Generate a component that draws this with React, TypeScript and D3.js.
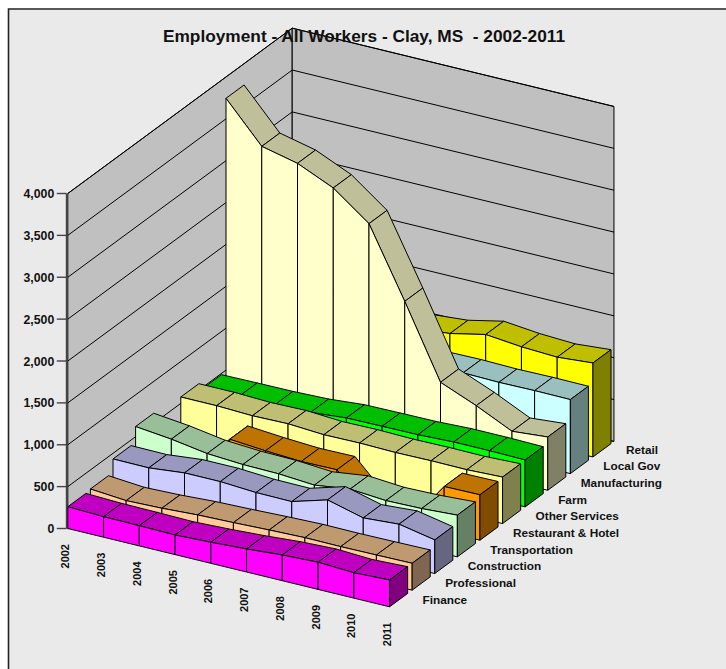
import React from "react";
import * as d3 from "d3";

const title = "Employment - All Workers - Clay, MS  - 2002-2011";
const years = ["2002","2003","2004","2005","2006","2007","2008","2009","2010","2011"];
const yTicks = [0,500,1000,1500,2000,2500,3000,3500,4000];

const finance = [260,245,241,234,251,275,307,324,303,320];
const professional = [273,238,251,275,287,303,315,312,316,321];
const construction = [433,430,474,474,447,443,567,456,485,401];
const transportation = [621,574,506,479,472,441,497,464,473,498];
const restaurant = [0,0,478,444,420,425,0,0,537,542];
const otherServices = [576,576,560,568,541,546,537,542,539,555];
const farm = [485,490,493,506,542,547,550,567,567,560];
const manufacturing = [3745,3275,3176,2986,2664,1840,977,802,600,636];
const localGov = [890,890,890,890,890,886,891,882,887,884];
const retail = [1010,1010,1015,1020,1022,1058,1150,1107,1087,1122];

const seriesNames = ["Finance","Professional","Construction","Transportation","Restaurant & Hotel","Other Services","Farm","Manufacturing","Local Gov","Retail"];
const seriesValues = [finance,professional,construction,transportation,restaurant,otherServices,farm,manufacturing,localGov,retail];
const seriesFront = ["#FF00FF","#FFCC99","#CCCCFF","#CCFFCC","#FF9900","#FFFF99","#00FF00","#FFFFCC","#CCFFFF","#FFFF00"];
const seriesTop = ["#C000C0","#BF9970","#9999BF","#99BF99","#BF7300","#BFBF73","#00BF00","#BFBF99","#99BFBF","#BFBF00"];
const seriesSide = ["#800080","#806650","#666680","#668066","#804D00","#80804D","#008000","#808066","#668080","#808000"];

const ix = d3.scaleLinear().domain([0, 9]).range([0, 321.75]);
const iy = d3.scaleLinear().domain([0, 9]).range([0, 78.3]);
const dx = d3.scaleLinear().domain([0, 1]).range([0, 22.6]);
const dy = d3.scaleLinear().domain([0, 1]).range([0, -16.65]);
const vy = d3.scaleLinear().domain([0, 4000]).range([0, -335]);
const X0 = 67.8, Y0 = 528.5;
const WALL = 9.93;
const BAR = 0.8;

type P = [number, number];
const proj = (i: number, s: number, v: number): P => [
  X0 + ix(i) + dx(s),
  Y0 + iy(i) + dy(s) + vy(v),
];
const poly = (pts: P[]) => d3.line()(pts) + "Z";

const font = "'Liberation Sans', Arial, sans-serif";
const stroke = "#000";

export default function App() {
  const idx = d3.range(years.length);
  const segs = d3.pairs(idx);
  return (
    <svg width={726} height={669} style={{ position: "absolute", left: 0, top: 0, display: "block" }} fontFamily={font}>
      <rect x={0} y={0} width={726} height={669} fill="#fff" />
      <rect x={9} y={9.5} width={717} height={660} fill="#EAEAEA" />
      <path d="M8.5,669V9H726" fill="none" stroke="#222" strokeWidth={1.6} />
      {/* walls */}
      <path d={poly([proj(0,0,0),proj(0,WALL,0),proj(0,WALL,4000),proj(0,0,4000)])} fill="#C0C0C0" stroke={stroke} />
      <path d={poly([proj(0,WALL,0),proj(9,WALL,0),proj(9,WALL,4000),proj(0,WALL,4000)])} fill="#C0C0C0" stroke={stroke} />
      {yTicks.map(t => (
        <path key={t} d={d3.line()([proj(0,0,t),proj(0,WALL,t),proj(9,WALL,t)])!} fill="none" stroke={stroke} />
      ))}
      {/* series back to front */}
      {d3.range(seriesNames.length - 1, -1, -1).map(s => {
        const vals = seriesValues[s];
        return (
          <g key={s} stroke={stroke} strokeLinejoin="round">
            {segs.map(([a, b]) => (
              <g key={a}>
                <path fill={seriesTop[s]} d={poly([proj(a,s,vals[a]),proj(b,s,vals[b]),proj(b,s+BAR,vals[b]),proj(a,s+BAR,vals[a])])} />
                <path fill={seriesFront[s]} d={poly([proj(a,s,0),proj(b,s,0),proj(b,s,vals[b]),proj(a,s,vals[a])])} />
              </g>
            ))}
            <path fill={seriesSide[s]} d={poly([proj(9,s,0),proj(9,s+BAR,0),proj(9,s+BAR,vals[9]),proj(9,s,vals[9])])} />
          </g>
        );
      })}
      {/* axis */}
      <line x1={proj(0,0,0)[0]-1.2} x2={proj(0,0,0)[0]-1.2} y1={proj(0,0,0)[1]} y2={proj(0,0,4000)[1]} stroke="#444" strokeWidth={1.6} />
      {yTicks.map(t => {
        const [x, y] = proj(0, 0, t);
        return (
          <g key={t}>
            <line x1={x-11} x2={x-1.2} y1={y} y2={y} stroke="#444" strokeWidth={1.4} />
            <text x={x-13.5} y={y+4.5} textAnchor="end" fontSize={12.3} fontWeight="bold" fill="#111">{d3.format(",")(t)}</text>
          </g>
        );
      })}
      {years.map((yr, i) => {
        const [x, y] = proj(i, 0, 0);
        return (
          <text key={yr} transform={`translate(${x+1.5},${y+15.5}) rotate(-90)`} textAnchor="end" fontSize={11} fontWeight="bold" fill="#111">{yr}</text>
        );
      })}
      {seriesNames.map((n, s) => {
        const [x, y] = proj(9, s, 0);
        return (
          <text key={n} x={x+33} y={y-3.2} fontSize={11.8} fontWeight="bold" fill="#111">{n}</text>
        );
      })}
      <text x={364} y={41.5} textAnchor="middle" fontSize={17.3} fontWeight="bold" fill="#111" xmlSpace="preserve" style={{ whiteSpace: "pre" }}>{title}</text>
    </svg>
  );
}
